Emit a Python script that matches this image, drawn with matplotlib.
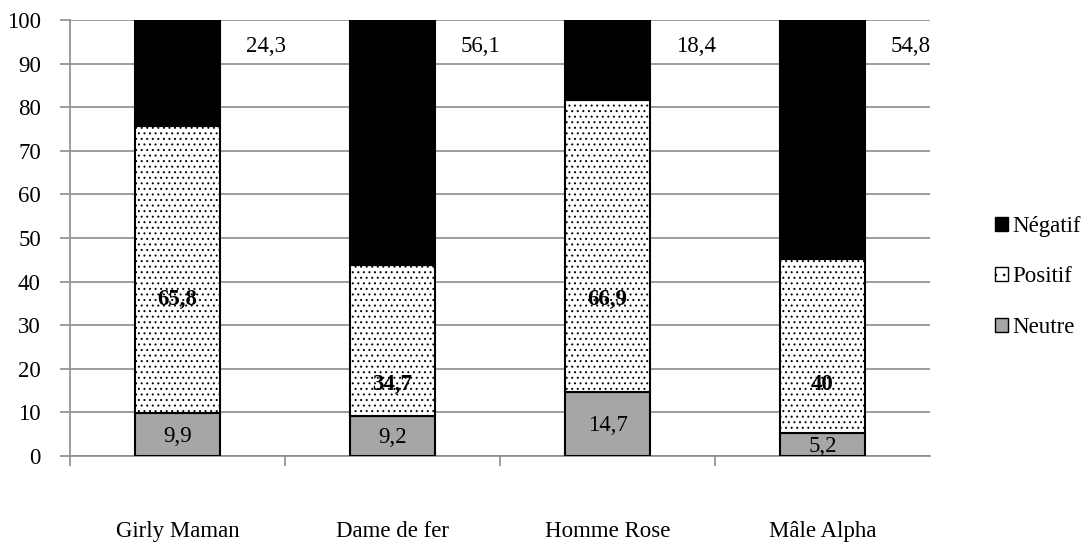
import numpy as np
import matplotlib
matplotlib.use("Agg")
import matplotlib.pyplot as plt
from matplotlib.patches import Patch

plt.rcParams['font.family'] = ['Liberation Serif', 'DejaVu Serif']
plt.rcParams['hatch.linewidth'] = 0.7
plt.rcParams['hatch.color'] = '#555555'

# Daten
kategorien = ['Girly Maman', 'Dame de fer', 'Homme Rose', 'Mâle Alpha']
neutre = [9.9, 9.2, 14.7, 5.2]
positif = [65.8, 34.7, 66.9, 40]
negatif = [24.3, 56.1, 18.4, 54.8]

# Lage der Beschriftungen (wie im Original verschoben)
positif_label_y = [35.8, 16.3, 35.8, 16.3]

def fmt(v):
    s = f"{v:g}"
    return s.replace('.', ',')

fig = plt.figure(figsize=(10.89, 5.52), dpi=100)
ax = fig.add_axes([70 / 1089, 1 - 456 / 552, 860 / 1089, 436 / 552])

x = np.arange(len(kategorien))
breite = 0.395
neutre = np.array(neutre)
positif = np.array(positif)
negatif = np.array(negatif)

ax.bar(x, neutre, breite, color='#a6a6a6', edgecolor='black', linewidth=1.5, zorder=3)
ax.bar(x, positif, breite, bottom=neutre, color='white', edgecolor='black',
       linewidth=1.5, hatch='...', zorder=3)
ax.bar(x, negatif, breite, bottom=neutre + positif, color='black',
       edgecolor='black', linewidth=1.5, zorder=3)

fs = 16.5
for i in range(len(kategorien)):
    ax.text(x[i], neutre[i] / 2 - 0.4, fmt(neutre[i]), ha='center', va='center',
            fontsize=fs, zorder=5)
    ax.text(x[i], positif_label_y[i], fmt(positif[i]), ha='center', va='center',
            fontsize=fs, fontweight='bold', zorder=5)
    ax.text(x[i] + 0.41, 94, fmt(negatif[i]), ha='center', va='center',
            fontsize=fs, zorder=5)

ax.set_xlim(-0.5, len(kategorien) - 0.5)
ax.set_ylim(0, 100)
ax.set_yticks(np.arange(0, 101, 10))
ax.yaxis.grid(True, color='#8c8c8c', linewidth=1.2, zorder=0)
ax.set_axisbelow(True)

ax.set_xticks(x)
ax.set_xticklabels(kategorien, fontsize=fs)
ax.set_xticks(np.arange(-0.5, len(kategorien) - 1), minor=True)
ax.tick_params(axis='x', which='major', length=0, pad=47)
ax.tick_params(axis='x', which='minor', length=7, width=1.2, color='#8c8c8c', direction='out')
ax.tick_params(axis='y', labelsize=fs, length=7, width=1.2, color='#8c8c8c', pad=14)

for s in ['top', 'right']:
    ax.spines[s].set_visible(False)
ax.spines['left'].set_color('#8c8c8c')
ax.spines['left'].set_linewidth(1.2)
ax.spines['bottom'].set_color('#8c8c8c')
ax.spines['bottom'].set_linewidth(1.2)

handles = [
    Patch(facecolor='black', edgecolor='black', label='Négatif'),
    Patch(facecolor='white', edgecolor='black', hatch='..', label='Positif'),
    Patch(facecolor='#a6a6a6', edgecolor='black', label='Neutre'),
]
fig.legend(handles=handles, loc='center left', bbox_to_anchor=(984 / 1089, 1 - 277 / 552),
           frameon=False, fontsize=fs, handlelength=0.55, handleheight=0.55,
           handletextpad=0.2, labelspacing=1.3, borderpad=0)

fig.savefig('out.png', dpi=100)
